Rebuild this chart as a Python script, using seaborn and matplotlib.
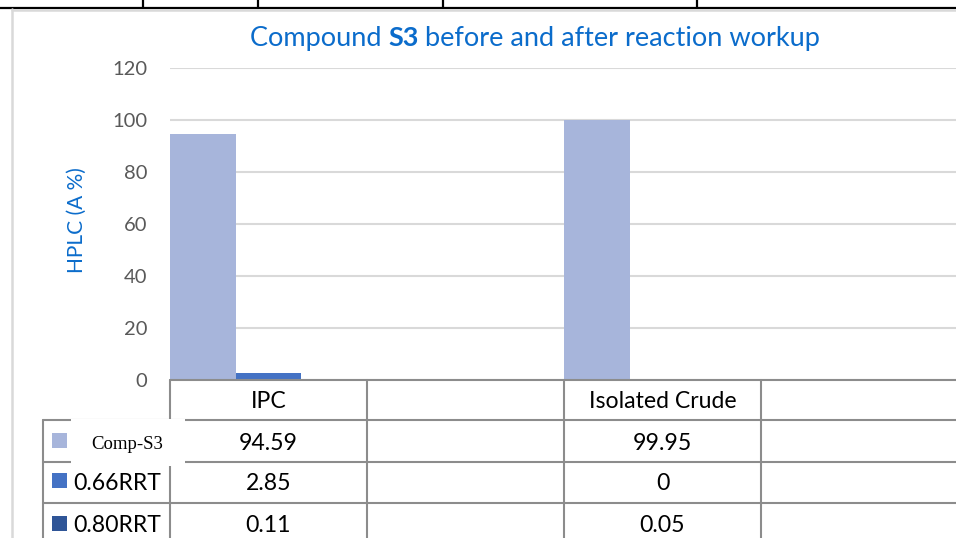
import numpy as np
import pandas as pd
import matplotlib
matplotlib.use("Agg")
import matplotlib.pyplot as plt
import matplotlib.transforms as mtransforms
from matplotlib.patches import Rectangle
from matplotlib.lines import Line2D
import seaborn as sns

# ---------------- data ----------------
categories = ["IPC", " ", "Isolated Crude", "  "]
series = ["Comp-S3", "0.66RRT", "0.80RRT"]
comp_s3 = [94.59, np.nan, 99.95, np.nan]
rrt_066 = [2.85, np.nan, 0, np.nan]
rrt_080 = [0.11, np.nan, 0.05, np.nan]
colors = ["#A7B5DB", "#4472C4", "#2F5597"]
yticks = [0, 20, 40, 60, 80, 100, 120]

values = {"Comp-S3": comp_s3, "0.66RRT": rrt_066, "0.80RRT": rrt_080}
rows = []
for s in series:
    for c, v in zip(categories, values[s]):
        rows.append({"cat": c, "series": s, "val": v})
df = pd.DataFrame(rows)

# ---------------- figure ----------------
sns.set_style("white")
plt.rcParams["font.family"] = ["Lato", "DejaVu Sans"]

W, H = 956, 538
fig = plt.figure(figsize=(W / 100, H / 100), dpi=100)

def fx(x):
    return x / W

def fy(y):
    return 1 - y / H

ax_left, ax_right, ax_top, ax_bottom = 170, 958, 68, 380
ax = fig.add_axes([fx(ax_left), fy(ax_bottom), fx(ax_right - ax_left), (ax_bottom - ax_top) / H])

sns.barplot(data=df, x="cat", y="val", hue="series", order=categories,
            hue_order=series, palette=colors, saturation=1, width=1.0,
            errorbar=None, linewidth=0, ax=ax, legend=False)

ax.set_xlim(-0.5, len(categories) - 0.5)
ax.set_ylim(0, 120)
ax.set_yticks(yticks)
ax.set_yticklabels([str(t) for t in yticks])
ax.set_xticks([])
ax.set_xlabel("")
ax.set_ylabel("")
for sp in ax.spines.values():
    sp.set_visible(False)
ax.tick_params(axis="y", length=0, pad=16.5, labelsize=14.5, labelcolor="#595959")
ax.set_axisbelow(True)
ax.yaxis.grid(True, color="#D9D9D9", linewidth=1.5)
ax.set_clip_on(False)

# ---------------- outer decorations ----------------
blue = "#0B6CCB"
fig.add_artist(Line2D([0, 1], [fy(7.5), fy(7.5)], color="black", lw=1.6))
for xv in [143, 258, 443, 697]:
    fig.add_artist(Line2D([fx(xv), fx(xv)], [fy(0), fy(7.5)], color="black", lw=1.6))
fig.add_artist(Line2D([fx(12), fx(12)], [fy(9), 0], color="#D9D9D9", lw=1.8))
fig.add_artist(Line2D([fx(12), 1], [fy(10), fy(10)], color="#D9D9D9", lw=1.8))

# ---------------- title (mixed weight) ----------------
parts = [("Compound ", "normal"), ("S3", "bold"), (" before and after reaction workup", "normal")]
renderer = fig.canvas.get_renderer()

def measure(size):
    total = 0
    ws = []
    for txt, wt in parts:
        t = fig.text(0, 0, txt, fontsize=size, fontweight=wt)
        w = t.get_window_extent(renderer).width
        t.remove()
        ws.append(w)
        total += w
    return total, ws

target_w = 570
tot, _ = measure(18)
tsize = 18 * target_w / tot
tot, ws = measure(tsize)
x0 = 535 - tot / 2
for (txt, wt), w in zip(parts, ws):
    fig.text(fx(x0), fy(46), txt, fontsize=tsize, fontweight=wt, color=blue,
             ha="left", va="baseline")
    x0 += w

# y label
fig.text(fx(77), fy(220), "HPLC (A %)", rotation=90, color=blue, fontsize=15,
         ha="center", va="center")

# ---------------- data table ----------------
trans = mtransforms.blended_transform_factory(ax.transData, fig.transFigure)
tcol = "#8C8C8C"
tlw = 1.5
row_lines = [380, 420, 462, 503, 545]
n = len(categories)

# header top line
fig.add_artist(Line2D([fx(ax_left), 1.01], [fy(380), fy(380)], color=tcol, lw=tlw))
for yl in row_lines[1:]:
    fig.add_artist(Line2D([fx(43), 1.01], [fy(yl), fy(yl)], color=tcol, lw=tlw))
# vertical category boundaries
for k in range(n + 1):
    ax.add_artist(Line2D([k - 0.5, k - 0.5], [fy(380), fy(545)], color=tcol, lw=tlw,
                         transform=trans, clip_on=False))
fig.add_artist(Line2D([fx(43), fx(43)], [fy(420), fy(545)], color=tcol, lw=tlw))

tsz = 16.6
header_base = 408
row_bases = [450, 490, 532]
for k, c in enumerate(categories):
    ax.text(k, fy(header_base), c.strip(), transform=trans, ha="center", va="baseline",
            fontsize=tsz, color="black", clip_on=False)
for r, s in enumerate(series):
    for k, v in enumerate(values[s]):
        lab = "" if (v is None or (isinstance(v, float) and np.isnan(v))) else f"{v:g}"
        ax.text(k, fy(row_bases[r]), lab, transform=trans, ha="center", va="baseline",
                fontsize=tsz, color="black", clip_on=False)

# legend keys
key_tops = [433, 473, 516]
for r, s in enumerate(series):
    fig.add_artist(Rectangle((fx(52), fy(key_tops[r] + 15)), fx(15), 15 / H,
                             facecolor=colors[r], edgecolor="none"))
# white text box over first legend label
fig.add_artist(Rectangle((fx(71), fy(466)), fx(185 - 71), (466 - 419) / H,
                         facecolor="white", edgecolor="none", zorder=5))
fig.text(fx(127), fy(449), series[0], family=["Liberation Serif", "DejaVu Serif"],
         fontsize=13.5, color="black", ha="center", va="baseline", zorder=6)
for r in (1, 2):
    fig.text(fx(73), fy(row_bases[r]), series[r], fontsize=tsz, color="black",
             ha="left", va="baseline")

fig.savefig("out.png", dpi=100)
